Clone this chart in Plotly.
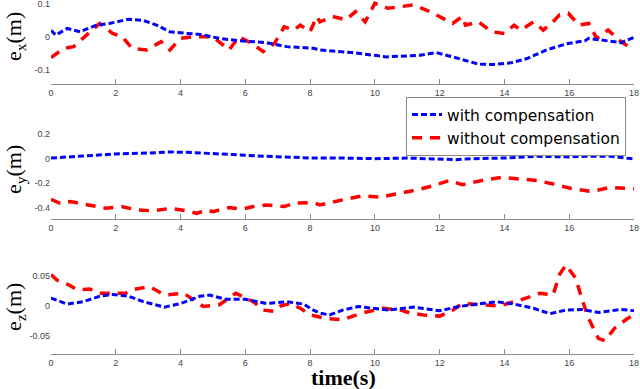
import plotly.graph_objects as go
from plotly.subplots import make_subplots

# --- data ---
ex_with_t = [0, 0.15, 0.5, 0.9, 1.4, 1.8, 2.4, 2.85, 3.26, 3.67, 4.2, 4.6, 5.2, 5.8, 6.65, 7.27,
             8.1, 8.3, 9.3, 10.36, 11.4, 11.9, 12.4, 13.2, 13.65, 14.2, 14.7, 15.3, 15.9, 16.5,
             16.6, 17.1, 17.6, 18]
ex_with = [0.02, 0.006, 0.026, 0.016, 0.036, 0.041, 0.054, 0.05, 0.036, 0.016, 0.011, 0.008,
           -0.004, -0.011, -0.017, -0.029, -0.034, -0.039, -0.047, -0.06, -0.055, -0.047, -0.06,
           -0.082, -0.083, -0.078, -0.065, -0.039, -0.021, -0.011, -0.004, -0.011, -0.017, -0.001]

ex_without_t = [0, 0.4, 0.7, 1.1, 1.5, 1.9, 2.2, 2.5, 2.95, 3.4, 3.67, 4.0, 4.4, 5.0, 5.5, 5.8,
                6.2, 6.55, 6.9, 7.2, 7.5, 7.7, 8.0, 8.2, 8.3, 8.7, 9.1, 9.4, 9.7, 10.0, 10.4,
                10.8, 11.2, 11.7, 12.06, 12.4, 12.7, 12.8, 13.2, 13.6, 14.0, 14.3, 14.5, 14.9,
                15.2, 15.5, 15.7, 15.97, 16.3, 16.6, 16.85, 17.2, 17.6, 18]
ex_without = [-0.062, -0.034, -0.029, 0.006, 0.041, 0.011, 0.001, -0.034, -0.039, -0.014, -0.039,
              -0.004, 0.001, 0.001, -0.039, 0.001, -0.019, -0.044, -0.019, 0.031, 0.021, 0.036,
              0.016, 0.062, 0.046, 0.062, 0.052, 0.077, 0.046, 0.102, 0.087, 0.092, 0.097, 0.077,
              0.057, 0.041, 0.062, 0.036, 0.046, 0.016, 0.011, 0.036, 0.021, 0.046, 0.021, 0.046,
              0.067, 0.072, 0.036, 0.041, -0.004, 0.021, -0.014, -0.039]

ey_with_t = [0, 1, 2, 3.05, 3.6, 4.2, 4.8, 5.6, 6.65, 7.7, 8.1, 9, 10, 11, 12, 12.5, 13, 14,
             15, 16, 16.5, 17.3, 18]
ey_with = [0.005, 0.024, 0.038, 0.046, 0.054, 0.052, 0.046, 0.033, 0.019, 0.005, 0.005, 0.005,
           0.0, 0.005, 0.0, -0.008, 0.0, 0.005, 0.019, 0.014, 0.019, 0.019, -0.003]

ey_without_t = [0, 0.28, 0.6, 1.1, 1.7, 2.2, 2.65, 3.15, 3.7, 4.2, 4.5, 4.8, 5.0, 5.5, 5.9,
                6.25, 6.65, 7.2, 7.5, 8.1, 8.3, 9.0, 9.6, 10.15, 10.8, 11.3, 11.8, 12.3, 12.7,
                13.3, 13.9, 14.5, 15.0, 15.6, 16.1, 16.7, 17.25, 18]
ey_without = [-0.33, -0.362, -0.348, -0.376, -0.403, -0.39, -0.416, -0.424, -0.403, -0.424,
              -0.444, -0.416, -0.43, -0.397, -0.41, -0.389, -0.376, -0.389, -0.362, -0.356,
              -0.376, -0.335, -0.302, -0.313, -0.28, -0.253, -0.22, -0.177, -0.212, -0.177,
              -0.152, -0.163, -0.177, -0.212, -0.245, -0.267, -0.234, -0.245]

ez_with_t = [0, 0.5, 1, 1.5, 1.9, 2.4, 2.85, 3.5, 4.0, 4.6, 4.9, 5.4, 6.0, 6.65, 7.27, 7.8,
             8.1, 8.3, 8.6, 9.0, 9.5, 10.4, 11.2, 12.0, 12.6, 13.2, 13.75, 14.3, 14.9, 15.4,
             15.9, 16.4, 16.9, 17.6, 18]
ez_with = [0.013, 0.003, 0.007, 0.016, 0.019, 0.016, 0.007, -0.002, 0.004, 0.016, 0.018, 0.011,
           0.011, 0.004, 0.007, 0.003, -0.007, -0.012, -0.015, -0.007, -0.001, -0.007, -0.002,
           -0.008, -0.001, 0.003, 0.007, 0.003, -0.004, -0.013, -0.007, -0.006, -0.011, -0.006,
           -0.008]

ez_without_t = [0, 0.18, 0.55, 0.8, 1.2, 1.5, 1.9, 2.3, 2.5, 3.05, 3.5, 4.1, 4.4, 4.7, 5.2,
                5.7, 6.25, 6.55, 6.9, 7.1, 7.4, 7.7, 8.0, 8.5, 9.0, 9.6, 10.25, 10.8, 11.1,
                11.5, 12.0, 12.4, 12.7, 13.2, 13.85, 14.5, 15.1, 15.5, 15.7, 15.9, 16.2, 16.4,
                16.6, 16.9, 17.1, 17.4, 17.8, 18]
ez_without = [0.052, 0.043, 0.035, 0.027, 0.028, 0.021, 0.021, 0.021, 0.027, 0.032, 0.018,
              0.021, 0.01, -0.001, 0.002, 0.021, 0.007, -0.007, -0.009, 0.0, 0.004, -0.004,
              -0.015, -0.021, -0.023, -0.012, -0.004, -0.007, -0.012, -0.015, -0.017, -0.007,
              0.004, 0.002, 0.0, 0.01, 0.021, 0.018, 0.052, 0.068, 0.046, 0.01, -0.021, -0.054,
              -0.058, -0.037, -0.021, -0.015]

x_ticks = [0, 2, 4, 6, 8, 10, 12, 14, 16, 18]
ex_ticks, ex_ticktext = [-0.1, 0, 0.1], ['-0.1', '0', '0.1']
ey_ticks, ey_ticktext = [-0.4, -0.2, 0, 0.2], ['-0.4', '-0.2', '0', '0.2']
ez_ticks, ez_ticktext = [-0.05, 0, 0.05], ['-0.05', '0', '0.05']

W, H = 640, 389
_BLUE = '#0000ff'
_RED = '#ff0000'
_AXIS = '#8c8c8c'


def _paper_y(px):
    return 1 - px / H


fig = make_subplots(rows=3, cols=1)

panels = [
    (ex_with_t, ex_with, ex_without_t, ex_without),
    (ey_with_t, ey_with, ey_without_t, ey_without),
    (ez_with_t, ez_with, ez_without_t, ez_without),
]
for i, (tw, vw, to, vo) in enumerate(panels):
    row = i + 1
    fig.add_trace(go.Scatter(
        x=to, y=vo, mode='lines', name='without compensation',
        line=dict(color=_RED, width=3.5, dash='10px,8px'),
        showlegend=False,
    ), row=row, col=1)
    fig.add_trace(go.Scatter(
        x=tw, y=vw, mode='lines', name='with compensation',
        line=dict(color=_BLUE, width=3, dash='6px,3px'),
        showlegend=(i == 0),
        legendrank=1,
    ), row=row, col=1)
    if i == 0:
        fig.add_trace(go.Scatter(
            x=[None], y=[None], mode='lines', name='without compensation',
            line=dict(color=_RED, width=3.5, dash='10px,8px'),
            legendrank=2,
        ), row=row, col=1)

# panel placement in pixels: (top, axis-line)
placements = [(0, 84, [-0.142, 0.112]), (128, 219, [-0.49, 0.249]), (262, 354, [-0.08, 0.073])]
tick_sets = [(ex_ticks, ex_ticktext), (ey_ticks, ey_ticktext), (ez_ticks, ez_ticktext)]
for i, ((top, bot, rng), (tv, tt)) in enumerate(zip(placements, tick_sets)):
    row = i + 1
    fig.update_yaxes(
        domain=[_paper_y(bot), _paper_y(top)], range=rng,
        tickvals=tv, ticktext=tt, automargin=False, ticklabeloverflow='allow',
        showline=False, showgrid=False, zeroline=False,
        ticks='', tickfont=dict(size=9, color='#444444', family='Liberation Sans'),
        row=row, col=1,
    )
    fig.update_xaxes(
        domain=[51 / W, 634 / W], range=[0, 18], tickvals=x_ticks, automargin=False,
        showline=True, linecolor=_AXIS, linewidth=1, ticklabeloverflow='allow',
        ticks='inside', ticklen=5, tickcolor=_AXIS,
        showgrid=False, zeroline=False,
        tickfont=dict(size=9, color='#444444', family='Liberation Sans'),
        row=row, col=1,
    )

ylabels = [('e<sub>x</sub>(m)', 37), ('e<sub>y</sub>(m)', 170), ('e<sub>z</sub>(m)', 307)]
for text, yc in ylabels:
    fig.add_annotation(
        text=text, xref='paper', yref='paper', x=15 / W, y=_paper_y(yc),
        xanchor='center', yanchor='middle', textangle=-90, showarrow=False,
        font=dict(size=22, family='Liberation Serif', color='#000000'),
    )
fig.add_annotation(
    text='<b>time(s)</b>', xref='paper', yref='paper', x=343 / W, y=_paper_y(377),
    xanchor='center', yanchor='middle', showarrow=False,
    font=dict(size=22, family='Liberation Serif', color='#000000'),
)

fig.update_layout(
    width=W, height=H,
    margin=dict(l=0, r=0, t=0, b=0, autoexpand=False),
    paper_bgcolor='white', plot_bgcolor='white',
    legend=dict(
        x=406 / W, y=_paper_y(97), xanchor='left', yanchor='top',
        bgcolor='white', bordercolor='#888888', borderwidth=1,
        font=dict(size=15.5, family='DejaVu Sans', color='#000000'),
        itemwidth=30, tracegroupgap=0,
    ),
)

# the page body has a default 8px margin; drop it so the figure fills the window
fig.write_html('out.html', config={'displayModeBar': False},
               post_script="document.body.style.margin='0';")
